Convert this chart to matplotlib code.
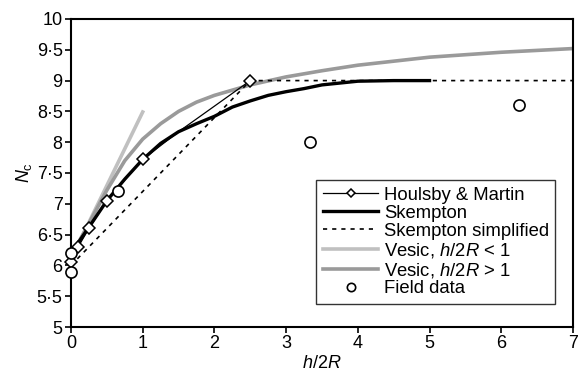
import matplotlib
matplotlib.use("Agg")
import matplotlib.pyplot as plt
from matplotlib.ticker import FuncFormatter

plt.rcParams['font.family'] = ['Liberation Sans', 'DejaVu Sans']
plt.rcParams['mathtext.fontset'] = 'custom'
plt.rcParams['mathtext.rm'] = 'Liberation Sans'
plt.rcParams['mathtext.it'] = 'Liberation Sans:italic'

# Houlsby & Martin (markers not at every point)
hm_x = [0, 0.1, 0.25, 0.5, 1.0, 1.5, 2.5]
hm_y = [6.05, 6.3, 6.6, 7.05, 7.72, 8.17, 9.0]
hm_marked = [0, 1, 2, 3, 4, 6]

# Skempton curve
sk_x = [0, 0.25, 0.5, 0.75, 1.0, 1.25, 1.5, 1.75, 2.0, 2.25, 2.5, 2.75, 3.0, 3.25, 3.5, 4.0, 4.5, 5.0]
sk_y = [6.2, 6.62, 7.05, 7.4, 7.72, 7.98, 8.17, 8.3, 8.42, 8.57, 8.67, 8.76, 8.82, 8.87, 8.93, 8.99, 9.0, 9.0]

# Skempton simplified
sks_x = [0, 2.5, 7]
sks_y = [6.0, 9.0, 9.0]

# Vesic, h/2R < 1
v1_x = [0, 1]
v1_y = [6.1, 8.49]

# Vesic, h/2R > 1
v2_x = [0, 0.25, 0.5, 0.75, 1.0, 1.25, 1.5, 1.75, 2.0, 2.5, 3.0, 3.5, 4.0, 5.0, 6.0, 7.0]
v2_y = [6.15, 6.68, 7.22, 7.7, 8.05, 8.3, 8.5, 8.65, 8.76, 8.93, 9.06, 9.16, 9.25, 9.38, 9.46, 9.52]

# Field data
fd_x = [0, 0, 0.65, 3.33, 6.25]
fd_y = [5.9, 6.2, 7.2, 8.0, 8.6]

fig = plt.figure(figsize=(5.78, 3.76), dpi=100)
ax = fig.add_axes([0.1228, 0.1303, 0.8685, 0.8192])

ax.plot(v1_x, v1_y, color='#c0c0c0', lw=2.6, label='Vesic, $h/2R$ < 1', zorder=2)
ax.plot(v2_x, v2_y, color='#9a9a9a', lw=2.6, label='Vesic, $h/2R$ > 1', zorder=2)
ax.plot(sks_x, sks_y, color='black', lw=1.2, ls=(0, (2.5, 3)), label='Skempton simplified', zorder=3)
ax.plot(sk_x, sk_y, color='black', lw=2.4, label='Skempton', zorder=4)
ax.plot(hm_x, hm_y, color='black', lw=0.9, marker='D', ms=6, mfc='white', mec='black',
        mew=1.1, markevery=hm_marked, label='Houlsby & Martin', zorder=5, clip_on=False)
ax.plot(fd_x, fd_y, ls='none', marker='o', ms=8, mfc='white', mec='black', mew=1.2,
        label='Field data', zorder=6, clip_on=False)

ax.set_xlim(0, 7)
ax.set_ylim(5, 10)
ax.set_xticks(range(0, 8))
ax.set_yticks([5, 5.5, 6, 6.5, 7, 7.5, 8, 8.5, 9, 9.5, 10])
ax.yaxis.set_major_formatter(FuncFormatter(lambda v, p: ('%g' % v).replace('.', '\u00b7')))
ax.tick_params(direction='out', length=4, width=1.2, labelsize=13, pad=2)
for s in ax.spines.values():
    s.set_linewidth(1.5)

ax.set_xlabel(r'$h/2R$', fontsize=13, labelpad=2)
ax.set_ylabel(r'$N_\mathrm{c}$', fontsize=13, labelpad=2)

handles, labels = ax.get_legend_handles_labels()
order = [4, 3, 2, 0, 1, 5]
leg = ax.legend([handles[i] for i in order], [labels[i] for i in order],
                loc='lower right', bbox_to_anchor=(0.965, 0.075), fontsize=13.3,
                frameon=True, fancybox=False, edgecolor='black', handlelength=3.0,
                labelspacing=0.05, handletextpad=0.3, borderpad=0.35, markerscale=0.75,
                borderaxespad=0)
leg.get_frame().set_linewidth(1.0)

fig.savefig('out.png', dpi=100)
